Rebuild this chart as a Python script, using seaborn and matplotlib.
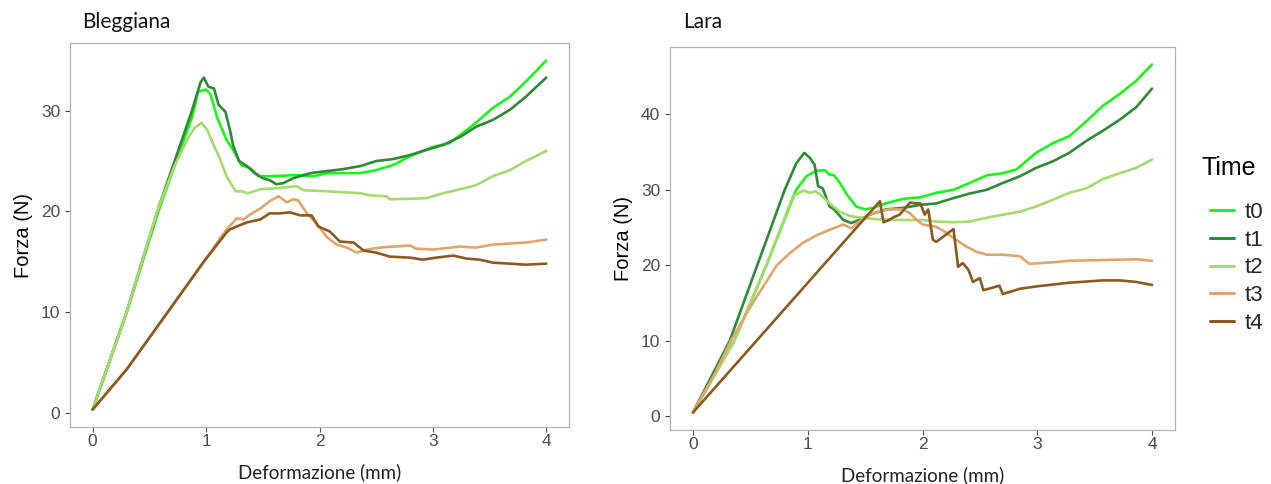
import numpy as np
import pandas as pd
import matplotlib
matplotlib.use("Agg")
import matplotlib.pyplot as plt
import seaborn as sns
from matplotlib.lines import Line2D

times = ["t0", "t1", "t2", "t3", "t4"]
colors = ["#1AF51A", "#2E8B35", "#A6DA6E", "#E2A56C", "#8C5A1F"]
panels = ["Bleggiana", "Lara"]

# ---- Bleggiana ----
bl_t0_x = [0, 0.3, 0.58, 0.88, 0.93, 1.0, 1.04, 1.095, 1.18, 1.24, 1.31, 1.39, 1.46, 1.62, 1.77, 1.95, 2.06, 2.36, 2.5, 2.65, 2.8, 3.0, 3.15, 3.38, 3.53, 3.68, 3.82, 4.0]
bl_t0_y = [0.3, 10, 20, 29.5, 31.9, 32.1, 31.6, 29.4, 27.1, 26.1, 24.6, 24.3, 23.5, 23.5, 23.6, 23.5, 23.8, 23.8, 24.1, 24.6, 25.5, 26.4, 26.8, 28.8, 30.3, 31.4, 32.9, 35.0]
bl_t1_x = [0, 0.3, 0.57, 0.875, 0.95, 0.98, 1.02, 1.07, 1.11, 1.17, 1.21, 1.24, 1.29, 1.36, 1.43, 1.5, 1.56, 1.62, 1.68, 1.77, 1.92, 2.06, 2.21, 2.36, 2.5, 2.65, 2.8, 2.94, 3.09, 3.24, 3.38, 3.53, 3.68, 3.82, 4.0]
bl_t1_y = [0.3, 10, 20, 30, 32.8, 33.3, 32.4, 32.2, 30.6, 29.9, 28.1, 26.5, 25.0, 24.5, 23.8, 23.3, 23.1, 22.7, 22.8, 23.3, 23.8, 24.0, 24.2, 24.5, 25.0, 25.2, 25.6, 26.1, 26.6, 27.4, 28.4, 29.1, 30.1, 31.4, 33.3]
bl_t2_x = [0, 0.3, 0.57, 0.72, 0.85, 0.9, 0.96, 1.01, 1.07, 1.12, 1.18, 1.26, 1.31, 1.37, 1.48, 1.62, 1.8, 1.86, 2.06, 2.36, 2.44, 2.59, 2.62, 2.94, 3.09, 3.24, 3.38, 3.53, 3.68, 3.82, 4.0]
bl_t2_y = [0.3, 10, 20, 24.5, 27.5, 28.3, 28.8, 28.1, 26.5, 25.3, 23.5, 22.0, 22.0, 21.8, 22.2, 22.3, 22.5, 22.1, 22.0, 21.8, 21.6, 21.5, 21.2, 21.3, 21.8, 22.2, 22.6, 23.5, 24.1, 25.0, 26.0]
bl_t3_x = [0, 0.3, 0.65, 0.98, 1.18, 1.27, 1.33, 1.39, 1.48, 1.56, 1.64, 1.71, 1.77, 1.81, 1.89, 1.98, 2.06, 2.15, 2.24, 2.33, 2.42, 2.53, 2.65, 2.8, 2.85, 3.0, 3.24, 3.38, 3.53, 3.82, 4.0]
bl_t3_y = [0.3, 4.3, 9.8, 15.0, 18.2, 19.3, 19.2, 19.7, 20.3, 21.0, 21.5, 20.9, 21.2, 21.1, 19.8, 18.7, 17.5, 16.7, 16.4, 15.9, 16.2, 16.4, 16.5, 16.6, 16.3, 16.2, 16.5, 16.4, 16.7, 16.9, 17.2]
bl_t4_x = [0, 0.3, 0.65, 0.98, 1.18, 1.21, 1.27, 1.36, 1.48, 1.56, 1.65, 1.74, 1.83, 1.93, 1.99, 2.09, 2.18, 2.3, 2.39, 2.5, 2.62, 2.8, 2.91, 3.03, 3.18, 3.3, 3.41, 3.53, 3.68, 3.82, 4.0]
bl_t4_y = [0.3, 4.3, 9.8, 15.0, 17.9, 18.2, 18.5, 18.9, 19.2, 19.8, 19.8, 19.9, 19.6, 19.6, 18.5, 18.0, 17.0, 16.9, 16.1, 15.9, 15.5, 15.4, 15.2, 15.4, 15.6, 15.3, 15.2, 14.9, 14.8, 14.7, 14.8]

# ---- Lara ----
la_t0_x = [0, 0.36, 0.64, 0.9, 0.99, 1.07, 1.15, 1.19, 1.23, 1.28, 1.34, 1.42, 1.5, 1.57, 1.68, 1.83, 1.98, 2.12, 2.27, 2.41, 2.56, 2.7, 2.82, 2.99, 3.14, 3.28, 3.43, 3.57, 3.72, 3.86, 4.0]
la_t0_y = [0.5, 10, 20, 30, 31.8, 32.5, 32.6, 32.0, 31.9, 30.9, 29.4, 27.8, 27.4, 27.6, 28.2, 28.8, 29.0, 29.6, 30.0, 30.9, 31.9, 32.2, 32.7, 34.9, 36.2, 37.1, 39.1, 41.1, 42.7, 44.4, 46.6]
la_t1_x = [0, 0.32, 0.56, 0.8, 0.9, 0.97, 1.02, 1.06, 1.09, 1.13, 1.19, 1.23, 1.31, 1.38, 1.45, 1.54, 1.68, 1.83, 1.98, 2.12, 2.27, 2.41, 2.56, 2.7, 2.85, 2.99, 3.14, 3.28, 3.43, 3.57, 3.72, 3.86, 4.0]
la_t1_y = [0.5, 10, 20, 30, 33.5, 34.9, 34.2, 33.3, 30.5, 30.2, 27.8, 27.4, 26.0, 25.6, 26.0, 26.7, 27.4, 27.6, 28.0, 28.2, 28.9, 29.5, 30.0, 30.9, 31.8, 32.9, 33.8, 34.9, 36.5, 37.8, 39.3, 40.9, 43.4]
la_t2_x = [0, 0.36, 0.64, 0.87, 0.96, 1.02, 1.07, 1.13, 1.19, 1.28, 1.37, 1.48, 1.6, 1.83, 2.0, 2.12, 2.27, 2.41, 2.56, 2.7, 2.85, 2.99, 3.14, 3.28, 3.43, 3.57, 3.72, 3.86, 4.0]
la_t2_y = [0.5, 10, 20, 29.1, 29.9, 29.6, 29.8, 29.1, 28.2, 27.1, 26.5, 26.3, 26.1, 26.0, 26.0, 25.8, 25.7, 25.8, 26.3, 26.7, 27.1, 27.8, 28.7, 29.6, 30.2, 31.4, 32.2, 32.9, 34.0]
la_t3_x = [0, 0.19, 0.33, 0.5, 0.73, 0.85, 0.96, 1.08, 1.19, 1.31, 1.38, 1.45, 1.54, 1.63, 1.71, 1.83, 1.89, 1.95, 2.0, 2.12, 2.21, 2.29, 2.38, 2.47, 2.56, 2.7, 2.85, 2.93, 3.14, 3.28, 3.57, 3.86, 4.0]
la_t3_y = [0.5, 5.6, 10, 14.5, 20, 21.7, 23, 24.0, 24.7, 25.4, 24.9, 25.8, 26.7, 27.2, 27.4, 27.4, 26.9, 26.0, 25.4, 25.1, 24.3, 23.4, 22.5, 21.8, 21.4, 21.4, 21.2, 20.2, 20.4, 20.6, 20.7, 20.8, 20.6]
la_t4_x = [0, 1.63, 1.66, 1.71, 1.74, 1.8, 1.89, 1.95, 1.98, 2.02, 2.05, 2.09, 2.12, 2.27, 2.31, 2.35, 2.4, 2.44, 2.5, 2.53, 2.67, 2.7, 2.85, 2.99, 3.28, 3.57, 3.72, 3.86, 4.0]
la_t4_y = [0.5, 28.5, 25.7, 26.0, 26.3, 26.7, 28.3, 28.2, 28.2, 26.7, 27.4, 23.4, 23.1, 24.8, 19.8, 20.3, 19.4, 17.8, 18.3, 16.7, 17.3, 16.2, 16.9, 17.2, 17.7, 18.0, 18.0, 17.8, 17.4]

x_ticks = [0, 1, 2, 3, 4]
y_ticks_bl = [0, 10, 20, 30]
y_ticks_la = [0, 10, 20, 30, 40]

series = {
    "Bleggiana": [(bl_t0_x, bl_t0_y), (bl_t1_x, bl_t1_y), (bl_t2_x, bl_t2_y), (bl_t3_x, bl_t3_y), (bl_t4_x, bl_t4_y)],
    "Lara": [(la_t0_x, la_t0_y), (la_t1_x, la_t1_y), (la_t2_x, la_t2_y), (la_t3_x, la_t3_y), (la_t4_x, la_t4_y)],
}

rows = []
for p, lst in series.items():
    for t, (xs, ys) in zip(times, lst):
        for i, (xv, yv) in enumerate(zip(xs, ys)):
            rows.append({"Panel": p, "Time": t, "i": i, "x": xv, "y": yv})
df = pd.DataFrame(rows)

sns.set_style("white")
plt.rcParams["font.family"] = ["Liberation Sans", "DejaVu Sans"]

fig = plt.figure(figsize=(12.71, 4.84), dpi=100)
W, H = 1271, 484
boxes = {
    "Bleggiana": (70, 43, 569, 427),
    "Lara": (670, 47, 1175, 430),
}
title_pos = {"Bleggiana": (82, 22), "Lara": (683, 22)}
yt = {"Bleggiana": y_ticks_bl, "Lara": y_ticks_la}
pal = dict(zip(times, colors))
grey = "#4d4d4d"

for p in panels:
    l, t, r, b = boxes[p]
    ax = fig.add_axes([l / W, 1 - b / H, (r - l) / W, (b - t) / H])
    sub = df[df.Panel == p]
    sns.lineplot(data=sub, x="x", y="y", hue="Time", units="Time", palette=pal,
                 estimator=None, sort=False, lw=1.9, legend=False, ax=ax)
    ymax = sub.y.max()
    ymin = sub.y.min()
    pad = (ymax - ymin) * 0.05
    ax.set_ylim(ymin - pad, ymax + pad)
    ax.set_xlim(-0.2, 4.2)
    ax.set_xticks(x_ticks)
    ax.set_yticks(yt[p])
    ax.tick_params(axis="x", pad=1.5)
    ax.tick_params(axis="both", colors=grey, labelcolor=grey, labelsize=12.5,
                   length=3.5, width=0.8, direction="out")
    ax.tick_params(bottom=True, left=True)
    for s in ax.spines.values():
        s.set_color("#b3b3b3")
        s.set_linewidth(0.9)
    ax.set_xlabel("Deformazione (mm)", family=["Lato", "DejaVu Sans"], fontsize=13.5, color="#222222", labelpad=10)
    ax.set_ylabel("Forza (N)", fontsize=14.5, color="black", labelpad=6)
    tx, ty = title_pos[p]
    fig.text(tx / W, 1 - ty / H, p, family=["Lato", "DejaVu Sans"], fontsize=15,
             color="#111111", ha="left", va="center")

handles = [Line2D([0], [0], color=c, lw=2.2) for c in colors]
leg = fig.legend(handles, times, loc="upper left",
                 bbox_to_anchor=(1190 / W, 1 - 182 / H), frameon=False,
                 fontsize=16, handlelength=1.1,
                 labelspacing=0.3, handletextpad=0.45)
fig.text(1202 / W, 1 - 168 / H, "Time", fontsize=18, color="black", ha="left", va="center")

fig.savefig("out.png", dpi=100)
